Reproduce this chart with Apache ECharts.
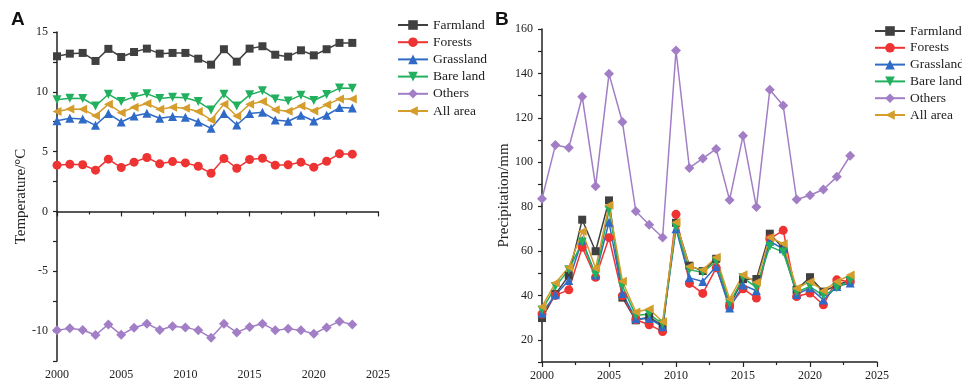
<!DOCTYPE html>
<html>
<head>
<meta charset="utf-8">
<script src="https://cdn.jsdelivr.net/npm/echarts@6/dist/echarts.min.js"></script>
<style>
  html, body { margin: 0; padding: 0; background: #fff; }
  #chart { width: 962px; height: 382px; }
</style>
</head>
<body>
<div id="chart"></div>
<script>
// data
const years = [2000, 2001, 2002, 2003, 2004, 2005, 2006, 2007, 2008, 2009, 2010, 2011,
  2012, 2013, 2014, 2015, 2016, 2017, 2018, 2019, 2020, 2021, 2022, 2023];

const names = ['Farmland', 'Forests', 'Grassland', 'Bare land', 'Others', 'All area'];

// panel A, temperature (°C)
const tempFarmland = [12.97, 13.19, 13.25, 12.58, 13.59, 12.91, 13.33, 13.61, 13.19, 13.25, 13.25, 12.77,
  12.27, 13.56, 12.52, 13.61, 13.81, 13.10, 12.94, 13.47, 13.05, 13.56, 14.09, 14.09];
const tempForests = [3.87, 3.95, 3.90, 3.45, 4.37, 3.67, 4.12, 4.51, 3.98, 4.17, 4.06, 3.78,
  3.19, 4.43, 3.61, 4.34, 4.45, 3.87, 3.90, 4.12, 3.70, 4.20, 4.82, 4.79];
const tempGrassland = [7.59, 7.79, 7.73, 7.20, 8.18, 7.48, 7.98, 8.21, 7.79, 7.93, 7.87, 7.48,
  6.95, 8.18, 7.23, 8.18, 8.29, 7.65, 7.54, 8.04, 7.56, 8.04, 8.68, 8.65];
const tempBare = [9.33, 9.47, 9.44, 8.82, 9.80, 9.19, 9.58, 9.83, 9.44, 9.55, 9.50, 9.19,
  8.49, 9.80, 8.82, 9.75, 10.08, 9.41, 9.24, 9.72, 9.27, 9.78, 10.31, 10.29];
const tempOthers = [-9.94, -9.77, -9.91, -10.33, -9.44, -10.31, -9.72, -9.38, -9.91, -9.60, -9.69, -9.94,
  -10.55, -9.38, -10.11, -9.66, -9.38, -9.94, -9.80, -9.94, -10.22, -9.69, -9.19, -9.44];
const tempAll = [8.35, 8.57, 8.54, 8.01, 8.97, 8.26, 8.71, 9.02, 8.54, 8.71, 8.63, 8.35,
  7.65, 8.97, 7.98, 8.97, 9.19, 8.51, 8.38, 8.82, 8.40, 8.91, 9.41, 9.41];

// panel B, precipitation (mm)
const precFarmland = [29.8, 40.6, 48.9, 74.1, 59.9, 82.8, 39.0, 28.8, 30.3, 26.3, 72.7, 53.4,
  51.0, 56.5, 35.4, 47.3, 47.4, 67.8, 61.2, 42.5, 48.2, 41.7, 44.7, 46.7];
const precForests = [31.6, 40.0, 42.5, 61.7, 48.2, 66.0, 39.8, 29.0, 26.8, 23.7, 76.5, 45.4,
  40.9, 52.4, 35.3, 43.0, 38.8, 65.5, 69.3, 39.5, 41.1, 35.8, 47.0, 46.2];
const precGrassland = [32.0, 40.3, 46.7, 64.8, 49.2, 73.0, 40.8, 29.5, 29.6, 25.9, 70.0, 47.9,
  46.3, 53.0, 34.3, 44.7, 42.1, 64.4, 61.0, 40.4, 43.4, 37.9, 44.0, 45.6];
const precBare = [33.4, 44.0, 51.5, 64.0, 49.2, 78.3, 44.2, 31.0, 31.6, 27.1, 70.8, 51.5,
  50.4, 55.4, 36.4, 47.9, 43.6, 62.1, 59.5, 41.4, 44.0, 39.9, 43.4, 46.7];
const precOthers = [83.5, 107.7, 106.5, 129.5, 89.2, 139.8, 118.1, 77.9, 71.8, 66.1, 150.3, 97.4,
  101.7, 106.0, 83.0, 111.9, 79.8, 132.6, 125.5, 83.2, 85.1, 87.7, 93.4, 102.9];
const precAll = [34.9, 45.6, 52.7, 68.8, 52.2, 80.6, 46.4, 32.5, 33.9, 28.1, 73.0, 53.0,
  51.5, 57.2, 38.4, 49.3, 45.9, 66.1, 63.3, 43.2, 46.2, 42.1, 46.2, 49.2];

const colors = ['#404040', '#ee3333', '#2f6bc6', '#22b05e', '#a27ec6', '#d49d2c'];
const symbols = ['rect', 'circle', 'triangle', 'triangle', 'diamond', 'triangle'];
const rotates = [0, 0, 0, 180, 0, 90];
const sizes = [8, 9, 9, 9, 10, 9];

const serif = 'Liberation Serif';

const makeSeries = (arrs, axisIdx) => arrs.map((arr, k) => ({
  name: names[k],
  type: 'line',
  xAxisIndex: axisIdx,
  yAxisIndex: axisIdx,
  data: years.map((y, i) => [y, arr[i]]),
  symbol: symbols[k],
  symbolRotate: rotates[k],
  symbolSize: sizes[k],
  showSymbol: true,
  itemStyle: { color: colors[k] },
  lineStyle: { color: colors[k], width: 1.5 },
  animation: false
}));

const axisLine = { show: true, lineStyle: { color: '#222', width: 1.5 } };
const labelStyle = { fontFamily: serif, fontSize: 12, color: '#222' };

const xAxisCfg = (gridIndex) => ({
  type: 'value',
  gridIndex: gridIndex,
  min: 2000,
  max: 2025,
  interval: 5,
  axisLine: axisLine,
  axisTick: { show: true, length: 5, lineStyle: { color: '#222', width: 1.2 } },
  minorTick: { show: true, splitNumber: 2, length: 3, lineStyle: { color: '#222', width: 1.2 } },
  splitLine: { show: false },
  axisLabel: Object.assign({ margin: 8, formatter: (v) => String(v) }, labelStyle)
});

const legendCfg = (left, top, lh) => ({
  orient: 'vertical',
  left: left,
  top: top,
  padding: 0,
  itemGap: 0,
  itemWidth: 30,
  itemHeight: 12,
  data: names,
  textStyle: { fontFamily: serif, fontSize: 13.5, color: '#222', lineHeight: lh }
});

const chart = echarts.init(document.getElementById('chart'), null, { renderer: 'canvas' });

chart.setOption({
  backgroundColor: '#fff',
  animation: false,
  graphic: [
    { type: 'text', left: 11, top: 10, style: { text: 'A', font: 'bold 19px "Liberation Sans"', fill: '#111' } },
    { type: 'text', left: 495, top: 10, style: { text: 'B', font: 'bold 19px "Liberation Sans"', fill: '#111' } }
  ],
  legend: [legendCfg(397, 16.4, 17.2), legendCfg(874, 22.6, 16.8)],
  grid: [
    { left: 57, top: 32, width: 321, height: 329 },
    { left: 542, top: 29, width: 335, height: 333 }
  ],
  xAxis: [xAxisCfg(0), xAxisCfg(1)],
  yAxis: [
    {
      type: 'value',
      gridIndex: 0,
      min: -12.5,
      max: 15,
      interval: 2.5,
      name: 'Temperature/°C',
      nameLocation: 'middle',
      nameGap: 28,
      nameTextStyle: { fontFamily: serif, fontSize: 15, color: '#222' },
      axisLine: axisLine,
      axisTick: { show: true, length: 4, lineStyle: { color: '#222', width: 1.2 } },
      splitLine: { show: false },
      axisLabel: Object.assign({
        margin: 9,
        formatter: (v) => (v % 5 === 0 ? String(v) : '')
      }, labelStyle)
    },
    {
      type: 'value',
      gridIndex: 1,
      min: 10,
      max: 160,
      interval: 10,
      name: 'Precipitation/mm',
      nameLocation: 'middle',
      nameGap: 29,
      nameTextStyle: { fontFamily: serif, fontSize: 15, color: '#222' },
      axisLine: axisLine,
      axisTick: { show: true, length: 4, lineStyle: { color: '#222', width: 1.2 } },
      splitLine: { show: false },
      axisLabel: Object.assign({
        margin: 9,
        formatter: (v) => (v % 20 === 0 ? String(v) : '')
      }, labelStyle)
    }
  ],
  series: makeSeries([tempFarmland, tempForests, tempGrassland, tempBare, tempOthers, tempAll], 0)
    .concat(makeSeries([precFarmland, precForests, precGrassland, precBare, precOthers, precAll], 1))
});
</script>
</body>
</html>
